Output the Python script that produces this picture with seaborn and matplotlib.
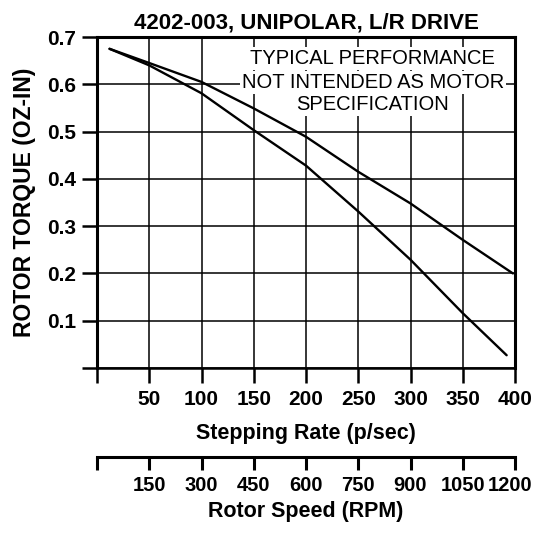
import matplotlib
matplotlib.use('Agg')
import matplotlib.pyplot as plt
import matplotlib.transforms as mtrans
import seaborn as sns
import pandas as pd

sns.set_style('white')
plt.rcParams['font.family'] = ['Liberation Sans', 'DejaVu Sans']
plt.rcParams['text.color'] = 'black'
plt.rcParams['axes.labelcolor'] = 'black'
plt.rcParams['xtick.color'] = 'black'
plt.rcParams['ytick.color'] = 'black'

# curves
rate_upper = [12, 50, 100, 150, 200, 250, 300, 350, 398]
torque_upper = [0.675, 0.645, 0.605, 0.549, 0.489, 0.415, 0.348, 0.271, 0.200]
rate_lower = [12, 50, 100, 150, 200, 250, 300, 350, 392]
torque_lower = [0.675, 0.640, 0.581, 0.503, 0.428, 0.331, 0.229, 0.116, 0.027]

rate_ticks = [0, 50, 100, 150, 200, 250, 300, 350, 400]
rate_labels = ['', '50', '100', '150', '200', '250', '300', '350', '400']
rpm_ticks = [0, 150, 300, 450, 600, 750, 900, 1050, 1200]
rpm_labels = ['', '150', '300', '450', '600', '750', '900', '1050', '1200']
torque_ticks = [0, 0.1, 0.2, 0.3, 0.4, 0.5, 0.6, 0.7]
torque_labels = ['', '0.1', '0.2', '0.3', '0.4', '0.5', '0.6', '0.7']
note_lines = ['TYPICAL PERFORMANCE', 'NOT INTENDED AS MOTOR', 'SPECIFICATION']

df = pd.concat([
	pd.DataFrame({'rate': rate_upper, 'torque': torque_upper, 'curve': 'upper'}),
	pd.DataFrame({'rate': rate_lower, 'torque': torque_lower, 'curve': 'lower'}),
])

fig = plt.figure(figsize=(5.34, 5.34), dpi=100)
L, W = 97/534, 418/534
ax = fig.add_axes([L, 1-368/534, W, 331/534])

sns.lineplot(data=df, x='rate', y='torque', hue='curve', palette=['black', 'black'],
			 sort=False, legend=False, linewidth=1.7, ax=ax)

ax.set_xlim(0, 400)
ax.set_ylim(0, 0.7)
ax.set_xticks(rate_ticks)
ax.set_xticklabels(rate_labels)
ax.set_yticks(torque_ticks)
ax.set_yticklabels(torque_labels)
ax.grid(True, color='black', linewidth=1.1)
for s in ax.spines.values():
	s.set_visible(True)
	s.set_color('black')
	s.set_linewidth(2.2)
ax.spines['bottom'].set_linewidth(1.8)
ax.tick_params(axis='both', direction='out', length=11, width=1.8, color='black',
			   labelsize=15, pad=4, bottom=True, left=True)
ax.tick_params(axis='x', pad=5)
for lab in ax.get_xticklabels() + ax.get_yticklabels():
	lab.set_fontweight('bold')

ax.set_xlabel('Stepping Rate (p/sec)', fontsize=15.5, fontweight='bold', labelpad=10)
ax.set_ylabel('ROTOR TORQUE (OZ-IN)', fontsize=16.5, fontweight='bold', labelpad=8)
ax.set_title('4202-003, UNIPOLAR, L/R DRIVE', fontsize=16, fontweight='bold', pad=6, x=0.5)

# disclaimer, one white box per line so the curves below stay visible
for txt, yy in zip(note_lines, [0.934, 0.862, 0.795]):
	ax.text(0.66, yy, txt, transform=ax.transAxes, ha='center', va='center', fontsize=14.5,
			bbox=dict(facecolor='white', edgecolor='none', pad=1.5), zorder=5)

# rotor speed scale
ax2 = fig.add_axes([L, 1-457/534, W, 0.0001])
ax2.set_xlim(0, 1200)
ax2.set_xticks(rpm_ticks)
ax2.set_xticklabels(rpm_labels)
ax2.set_yticks([])
for k in ['left', 'right', 'top']:
	ax2.spines[k].set_visible(False)
ax2.spines['bottom'].set_linewidth(2.2)
ax2.spines['bottom'].set_color('black')
ax2.tick_params(axis='x', direction='out', length=9, width=2.2, color='black',
				labelsize=14.5, pad=5, bottom=True)
for lab in ax2.get_xticklabels():
	lab.set_fontweight('bold')
# nudge the last label so it stays inside the figure
last = ax2.get_xticklabels()[-1]
last.set_transform(last.get_transform() + mtrans.ScaledTranslation(-5/100, 0, fig.dpi_scale_trans))
ax2.set_xlabel('Rotor Speed (RPM)', fontsize=15.5, fontweight='bold', labelpad=4)
ax2.patch.set_visible(False)

fig.savefig('out.png', dpi=100)
